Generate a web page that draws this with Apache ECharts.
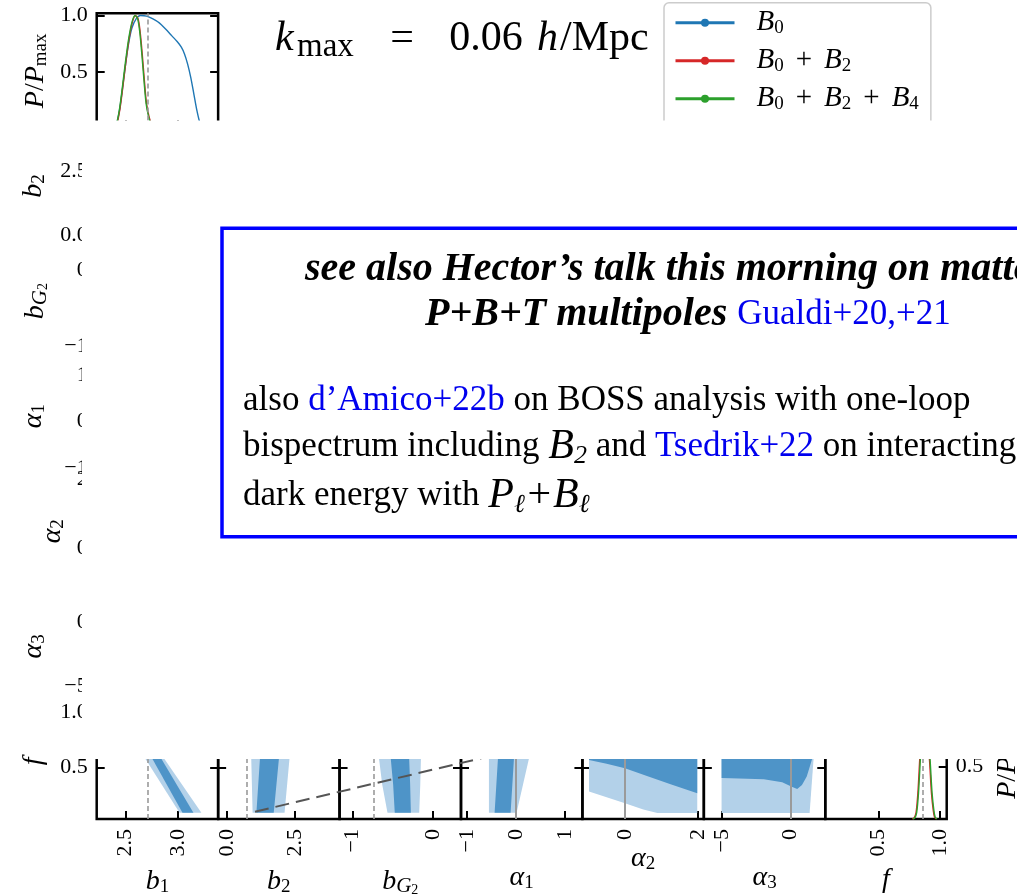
<!DOCTYPE html>
<html><head><meta charset="utf-8">
<script src="https://cdn.jsdelivr.net/npm/echarts@6/dist/echarts.min.js"></script>
<style>html,body{margin:0;padding:0;background:#fff}#c{width:1017px;height:895px}</style>
</head><body><div id="c"></div>
<script>
// ================= DATA =================
const legendNames = ['B0', 'B0+B2', 'B0+B2+B4'];
const seriesColors = ['#1f77b4', '#d62728', '#2ca02c'];

// axis ranges (column parameters)
const rangeB1 = [2.225, 3.38];
const rangeB2 = [-0.333, 4.15];
const rangeBG2 = [-1.157, 0.343];
const rangeA1 = [-1.122, 1.36];
const rangeA2 = [-1.161, 2.153];
const rangeA3 = [-6.35, 2.56];
const rangeFx = [0.068, 1.054];   // f as x (marginal)
const rangeFy = [0.04, 1.072];    // f as y (bottom row)
const rangeP = [0, 1.02];         // P/Pmax (top marginal)
const rangePf = [0, 1.1];         // P/Pmax (f marginal)

// ticks and tick labels
const ticksB1 = [2.5, 3.0],  labelsB1 = ['2.5', '3.0'];
const ticksB2 = [0, 2.5],    labelsB2 = ['0.0', '2.5'];
const ticksBG2 = [-1, 0],    labelsBG2 = ['\u22121', '0'];
const ticksA1 = [-1, 0, 1],  labelsA1 = ['\u22121', '0', '1'];
const ticksA2 = [0, 2],      labelsA2 = ['0', '2'];
const ticksA3 = [-5, 0],     labelsA3 = ['\u22125', '0'];
const ticksF = [0.5, 1.0],   labelsF = ['0.5', '1.0'];
const ticksP = [0.5, 1.0],   labelsP = ['0.5', '1.0'];

// fiducial (truth) values
const truthB1 = 2.706, truthB2 = 0.714, truthBG2 = -0.732;
const truthA1 = 0, truthA2 = 0, truthA3 = 0, truthF = 0.86;

// 1D marginal of b1 : [b1, P/Pmax]
const margB1_B0 = [[2.38,0],[2.41,0.03],[2.44,0.15],[2.47,0.35],[2.50,0.57],[2.53,0.76],[2.56,0.89],[2.60,0.97],[2.64,1.0],[2.70,0.995],[2.76,0.97],[2.82,0.935],[2.88,0.88],[2.94,0.82],[2.99,0.77],[3.03,0.72],[3.06,0.66],[3.09,0.57],[3.12,0.45],[3.15,0.30],[3.18,0.15],[3.21,0.04],[3.24,0]];
const margB1_B0B2 = [[2.384,0],[2.414,0.03],[2.444,0.16],[2.474,0.37],[2.504,0.6],[2.534,0.8],[2.564,0.94],[2.594,1.0],[2.619,0.97],[2.639,0.85],[2.659,0.65],[2.679,0.42],[2.699,0.22],[2.724,0.1],[2.749,0.03],[2.78,0]];
const margB1_B0B2B4 = [[2.38,0],[2.41,0.03],[2.44,0.16],[2.47,0.37],[2.50,0.6],[2.53,0.8],[2.56,0.94],[2.59,1.0],[2.615,0.97],[2.635,0.85],[2.655,0.65],[2.675,0.42],[2.695,0.22],[2.72,0.1],[2.745,0.03],[2.775,0]];

// 1D marginal of f : [f, P/Pmax]
const margF_B0B2 = [[0.775,0],[0.79,0.01],[0.805,0.06],[0.82,0.25],[0.835,0.57],[0.85,0.85],[0.87,1.0],[0.89,0.87],[0.905,0.7],[0.915,0.55],[0.93,0.25],[0.945,0.08],[0.955,0.02],[0.97,0]];
const margF_B0B2B4 = [[0.78,0],[0.795,0.01],[0.81,0.06],[0.825,0.25],[0.84,0.57],[0.855,0.85],[0.875,1.0],[0.895,0.87],[0.91,0.7],[0.92,0.55],[0.935,0.25],[0.95,0.08],[0.96,0.02],[0.975,0]];

// 2D contours with f (outer = 2 sigma, inner = 1 sigma) : [param, f]
const contB1Outer = [[2.608,0.70],[2.781,0.70],[3.221,0.095],[3.013,0.095]];
const contB1Inner = [[2.684,0.70],[2.765,0.70],[3.145,0.095],[3.041,0.095]];
const contB2Outer = [[0.87,0.70],[2.34,0.70],[2.30,0.578],[2.12,0.095],[0.94,0.095],[0.89,0.578]];
const contB2Inner = [[1.24,0.70],[1.95,0.70],[1.91,0.578],[1.72,0.095],[1.08,0.095],[1.21,0.578]];
const contBG2Outer = [[-0.70,0.70],[-0.669,0.578],[-0.63,0.35],[-0.565,0.095],[-0.173,0.095],[-0.16,0.35],[-0.152,0.578],[-0.16,0.70]];
const contBG2Inner = [[-0.55,0.70],[-0.524,0.578],[-0.495,0.35],[-0.475,0.095],[-0.276,0.095],[-0.285,0.35],[-0.297,0.578],[-0.31,0.70]];
const contA1Outer = [[-0.551,0.70],[0.328,0.70],[0.265,0.578],[0.014,0.095],[-0.551,0.095]];
const contA1Inner = [[-0.35,0.70],[-0.02,0.70],[-0.04,0.578],[-0.108,0.095],[-0.435,0.095],[-0.367,0.578]];
const contA2Outer = [[-0.981,0.75],[1.973,0.75],[1.973,0.093],[0.883,0.093],[0.5,0.125],[0,0.182],[-0.5,0.235],[-0.981,0.286]];
const contA2Inner = [[-0.981,0.75],[1.973,0.75],[1.973,0.271],[1.245,0.352],[0.6,0.426],[0,0.495],[-0.5,0.535],[-0.981,0.569]];
const contA3Outer = [[-5.05,0.75],[1.75,0.75],[1.70,0.578],[1.41,0.093],[-5.05,0.093]];
const contA3Inner = [[-5.05,0.75],[1.65,0.75],[1.59,0.578],[1.46,0.524],[1.2,0.42],[0.85,0.345],[0.5,0.31],[0.1,0.33],[-0.6,0.37],[-1.95,0.396],[-4.39,0.405],[-5.05,0.408]];

// ================= LAYOUT / STYLE =================
const SERIF = 'Liberation Serif';
const OUTER = '#b3d1e9', INNER = '#4e94c8';
const L0 = 96.7, CW = 121.43, T0 = 13.3, RH = 115.1;

const nameRich = {
  i: {fontFamily: SERIF, fontStyle: 'italic', fontSize: 28, lineHeight: 30, color: '#000'},
  n: {fontFamily: SERIF, fontSize: 28, lineHeight: 30, color: '#000'},
  s: {fontFamily: SERIF, fontSize: 19, lineHeight: 12, verticalAlign: 'bottom', color: '#000'},
  si: {fontFamily: SERIF, fontStyle: 'italic', fontSize: 21, lineHeight: 14, verticalAlign: 'bottom', color: '#000'},
  ss: {fontFamily: SERIF, fontSize: 14, lineHeight: 4, verticalAlign: 'bottom', color: '#000'}
};
const NAME_B1 = '{i|b}{s|1}', NAME_B2 = '{i|b}{s|2}', NAME_BG2 = '{i|b}{si|G}{ss|2}';
const NAME_A1 = '{i|α}{s|1}', NAME_A2 = '{i|α}{s|2}', NAME_A3 = '{i|α}{s|3}';
const NAME_F = '{i|f}', NAME_P = '{i|P}{n|/}{i|P}{s|max}';

function fmtFrom(ticks, labels) {
  return v => { let k = 0, best = 1e9; ticks.forEach((t, i) => { const d = Math.abs(t - v); if (d < best) { best = d; k = i; } }); return labels[k]; };
}
const grids = [], xAxes = [], yAxes = [], series = [];
function addGrid(col, row, show) {
  grids.push({left: L0 + col * CW, top: T0 + row * RH, width: CW, height: RH, show: show,
    borderColor: '#000', borderWidth: 2.5, backgroundColor: 'transparent', containLabel: false, outerBoundsMode: 'none'});
  return grids.length - 1;
}
function tickCfg(ticks) { return {show: true, inside: true, length: 8, customValues: ticks, lineStyle: {color: '#000', width: 2}}; }
function labelCfg(show, ticks, labels, rotate) {
  return {show: show, customValues: ticks, formatter: fmtFrom(ticks, labels), rotate: rotate, margin: rotate ? 10 : 9,
    fontFamily: SERIF, fontSize: 22, color: '#000'};
}
function addX(gi, range, ticks, labels, o) {
  const a = {type: 'value', gridIndex: gi, position: 'bottom', min: range[0], max: range[1], silent: true,
    axisLine: {show: false, onZero: false}, splitLine: {show: false}, nameMoveOverlap: false,
    axisTick: tickCfg(ticks), axisLabel: labelCfg(!!o.labels, ticks, labels, 90)};
  if (o.hidden) a.show = false;
  if (o.name) { a.name = o.name; a.nameLocation = 'middle'; a.nameGap = o.gap; a.nameTextStyle = {rich: nameRich}; }
  xAxes.push(a); return xAxes.length - 1;
}
function addY(gi, range, ticks, labels, o) {
  const a = {type: 'value', gridIndex: gi, position: o.pos || 'left', min: range[0], max: range[1], silent: true,
    axisLine: {show: false, onZero: false}, splitLine: {show: false}, nameMoveOverlap: false,
    axisTick: tickCfg(ticks), axisLabel: labelCfg(!!o.labels, ticks, labels, 0)};
  if (o.name) { a.name = o.name; a.nameLocation = 'middle'; a.nameGap = o.gap; a.nameRotate = 90; a.nameTextStyle = {rich: nameRich}; }
  yAxes.push(a); return yAxes.length - 1;
}
function polySeries(xi, yi, pts, color) {
  return {type: 'custom', xAxisIndex: xi, yAxisIndex: yi, clip: true, silent: true, z: 2, data: [pts[0]],
    renderItem: (params, api) => ({type: 'polygon', shape: {points: pts.map(p => api.coord(p)), smooth: 0}, style: {fill: color}})};
}
function curveSeries(xi, yi, name, pts, color) {
  return {type: 'line', name: name, xAxisIndex: xi, yAxisIndex: yi, data: pts, showSymbol: false, symbol: 'none',
    smooth: 0.3, clip: true, silent: true, lineStyle: {color: color, width: 1.4}, itemStyle: {color: color}, z: 3};
}
function truthSeries(xi, yi, val, dashed) {
  return {type: 'line', xAxisIndex: xi, yAxisIndex: yi, data: [], silent: true,
    markLine: {silent: true, symbol: 'none', animation: false, label: {show: false}, z: 5,
      lineStyle: dashed ? {color: '#9a9a9a', width: 1.6, type: [5, 3]} : {color: '#9a9a9a', width: 2, type: 'solid'},
      data: [{xAxis: val}]}};
}

// ---- top marginal (b1) ----
{
  const g = addGrid(0, 0, true);
  const xi = addX(g, rangeB1, ticksB1, labelsB1, {labels: false});
  const yl = addY(g, rangeP, ticksP, labelsP, {labels: true, name: NAME_P, gap: 46});
  addY(g, rangeP, ticksP, labelsP, {pos: 'right', labels: false});
  series.push(truthSeries(xi, yl, truthB1, true));
  series.push(curveSeries(xi, yl, 'B0', margB1_B0, seriesColors[0]));
  series.push(curveSeries(xi, yl, 'B0+B2', margB1_B0B2, seriesColors[1]));
  series.push(curveSeries(xi, yl, 'B0+B2+B4', margB1_B0B2B4, seriesColors[2]));
}
// ---- left column rows 1..5 (axes only; panels are covered) ----
[[rangeB2, ticksB2, labelsB2, NAME_B2, 48],
 [rangeBG2, ticksBG2, labelsBG2, NAME_BG2, 46],
 [rangeA1, ticksA1, labelsA1, NAME_A1, 48],
 [rangeA2, ticksA2, labelsA2, NAME_A2, 29],
 [rangeA3, ticksA3, labelsA3, NAME_A3, 48]].forEach((r, k) => {
  const g = addGrid(0, k + 1, false);
  addX(g, rangeB1, ticksB1, labelsB1, {hidden: true});
  addY(g, r[0], r[1], r[2], {labels: true, name: r[3], gap: r[4]});
});
// ---- bottom row ----
const bottomCols = [
  [rangeB1, ticksB1, labelsB1, NAME_B1, 48, contB1Outer, contB1Inner, truthB1, true],
  [rangeB2, ticksB2, labelsB2, NAME_B2, 48, contB2Outer, contB2Inner, truthB2, true],
  [rangeBG2, ticksBG2, labelsBG2, NAME_BG2, 48, contBG2Outer, contBG2Inner, truthBG2, true],
  [rangeA1, ticksA1, labelsA1, NAME_A1, 44, contA1Outer, contA1Inner, truthA1, false],
  [rangeA2, ticksA2, labelsA2, NAME_A2, 25, contA2Outer, contA2Inner, truthA2, false],
  [rangeA3, ticksA3, labelsA3, NAME_A3, 44, contA3Outer, contA3Inner, truthA3, false]
];
bottomCols.forEach((c, k) => {
  const g = addGrid(k, 6, true);
  const xi = addX(g, c[0], c[1], c[2], {labels: true, name: c[3], gap: c[4]});
  const yl = addY(g, rangeFy, ticksF, labelsF, k === 0 ? {labels: true, name: NAME_F, gap: 48} : {labels: false});
  addY(g, rangeFy, ticksF, labelsF, {pos: 'right', labels: false});
  series.push(polySeries(xi, yl, c[5], OUTER));
  series.push(polySeries(xi, yl, c[6], INNER));
  series.push(truthSeries(xi, yl, c[7], c[8]));
});
// f marginal
{
  const g = addGrid(6, 6, true);
  const xi = addX(g, rangeFx, ticksF, labelsF, {labels: true, name: NAME_F, gap: 46});
  const yr = addY(g, rangePf, ticksP, labelsP, {pos: 'right', labels: true, name: NAME_P, gap: 46});
  series.push(truthSeries(xi, yr, truthF, true));
  series.push(curveSeries(xi, yr, 'B0+B2', margF_B0B2, seriesColors[1]));
  series.push(curveSeries(xi, yr, 'B0+B2+B4', margF_B0B2B4, seriesColors[2]));
}

const legendRich = {
  g: {width: 17, fontSize: 10},
  i: {fontFamily: SERIF, fontStyle: 'italic', fontSize: 29, lineHeight: 30, color: '#000'},
  s: {fontFamily: SERIF, fontSize: 19, lineHeight: 12, verticalAlign: 'bottom', color: '#000'},
  p: {fontFamily: SERIF, fontSize: 29, lineHeight: 30, padding: [0, 12, 0, 12], color: '#000'}
};
const legendText = {
  'B0': '{g| }{i|B}{s|0}',
  'B0+B2': '{g| }{i|B}{s|0}{p|+}{i|B}{s|2}',
  'B0+B2+B4': '{g| }{i|B}{s|0}{p|+}{i|B}{s|2}{p|+}{i|B}{s|4}'
};

const textBody = {
  r: {fontFamily: SERIF, fontSize: 35, lineHeight: 44, fill: '#000'},
  bi: {fontFamily: SERIF, fontSize: 40, fontStyle: 'italic', fontWeight: 'bold', lineHeight: 44, fill: '#000'},
  bl: {fontFamily: SERIF, fontSize: 35, lineHeight: 44, fill: '#0000ee'},
  m: {fontFamily: SERIF, fontSize: 42, fontStyle: 'italic', lineHeight: 44, fill: '#000'},
  ms: {fontFamily: SERIF, fontSize: 26, fontStyle: 'italic', lineHeight: 10, verticalAlign: 'bottom', fill: '#000'}
};
function textLine(x, y, text) {
  return {type: 'text', z: 62, x: x, y: y, silent: true,
    style: {text: text, rich: textBody, verticalAlign: 'middle', textVerticalAlign: 'middle', align: 'left', textAlign: 'left'}};
}

const titleBase = {fontFamily: SERIF, fontWeight: 'normal', fontSize: 42, lineHeight: 50, color: '#000'};
const option = {
  animation: false,
  title: {
    left: 270, top: 9,
    text: '{i|k}{s|max}{n|=}{n2|0.06}{i2|h}{n3|/Mpc}',
    textStyle: {fontWeight: 'normal', rich: {
      i: Object.assign({}, titleBase, {fontStyle: 'italic', width: 22}),
      s: Object.assign({}, titleBase, {fontSize: 33, lineHeight: 24, width: 70, verticalAlign: 'bottom'}),
      n: Object.assign({}, titleBase, {width: 70, align: 'center'}),
      n2: Object.assign({}, titleBase, {width: 98}),
      i2: Object.assign({}, titleBase, {fontStyle: 'italic', width: 25}),
      n3: Object.assign({}, titleBase)
    }}
  },
  legend: {
    orient: 'vertical', left: 664, top: 2.7, padding: [5.6, 12, 14, 10], itemGap: 8.5,
    itemWidth: 59, itemHeight: 10, borderColor: '#cccccc', borderWidth: 1.5, borderRadius: 5,
    backgroundColor: '#fff', selectedMode: false, data: legendNames,
    formatter: n => legendText[n], textStyle: {rich: legendRich},
    lineStyle: {width: 3}
  },
  grid: grids, xAxis: xAxes, yAxis: yAxes, series: series,
  graphic: [
    {type: 'line', z: 40, silent: true, shape: {x1: 255, y1: 811.7, x2: 530, y2: 746.7},
      style: {stroke: '#555', lineWidth: 2, lineDash: [14, 7]}},
    {type: 'rect', z: 50, silent: true, shape: {x: 82, y: 120.5, width: 940, height: 638.5}, style: {fill: '#fff'}},
    {type: 'rect', z: 60, silent: true, shape: {x: 222, y: 228.3, width: 830, height: 308.5},
      style: {fill: '#fff', stroke: '#0000ff', lineWidth: 3.5}},
    textLine(305, 270, '{bi|see also Hector\u2019s talk this morning on matter}'),
    textLine(425, 315, '{bi|P+B+T multipoles }{bl|Gualdi+20,+21}'),
    textLine(243, 401, '{r|also }{bl|d\u2019Amico+22b}{r| on BOSS analysis with one-loop}'),
    textLine(243, 447, '{r|bispectrum including }{m|B}{ms|2}{r| and }{bl|Tsedrik+22}{r| on interacting}'),
    textLine(243, 496, '{r|dark energy with }{m|P}{ms|\u2113}{m|+}{m|B}{ms|\u2113}')
  ]
};
const chart = echarts.init(document.getElementById('c'), null, {renderer: 'canvas', width: 1017, height: 895});
chart.setOption(option);
</script>
</body></html>
